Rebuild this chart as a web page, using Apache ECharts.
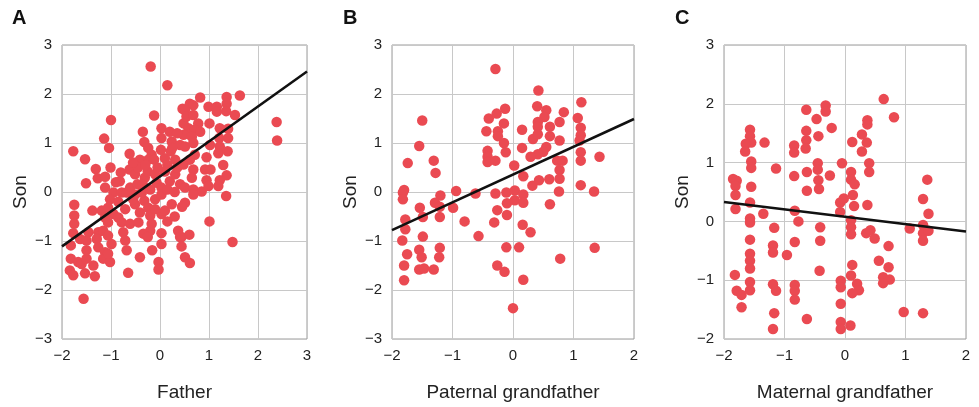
<!DOCTYPE html>
<html><head><meta charset="utf-8">
<script src="https://cdn.jsdelivr.net/npm/echarts@6/dist/echarts.min.js"></script>
<style>html,body{margin:0;padding:0;background:#fff}#c{width:979px;height:407px}</style>
</head><body><div id="c"></div>
<script>
const panelLetters = ['A', 'B', 'C'];
const xNames = ['Father', 'Paternal grandfather', 'Maternal grandfather'];
const yName = 'Son';

const fatherSon = [[-0.19,2.56],[0.15,2.18],[-0.12,1.56],[-1.0,1.47],[-0.35,1.23],[-1.14,1.09],[-1.77,0.83],[-1.04,0.9],[-1.53,0.67],[-1.31,0.47],[-1.27,0.28],[-1.12,0.31],[-1.01,0.5],[-1.51,0.18],[-0.82,0.22],[-0.62,0.78],[-0.62,0.46],[-0.41,0.66],[-0.32,1.02],[-0.24,0.9],[-0.17,0.76],[-0.24,0.66],[-0.12,0.66],[0.03,1.3],[0.2,1.23],[0.03,1.1],[0.24,1.03],[0.02,0.86],[0.22,0.83],[0.1,0.69],[0.31,0.66],[0.41,0.96],[0.46,1.7],[0.48,1.4],[-0.51,0.36],[-0.61,0.09],[-0.46,0.16],[-0.31,0.29],[-0.25,0.42],[-0.1,0.36],[-0.07,0.19],[0.1,0.42],[0.2,0.22],[0.31,0.36],[0.41,0.16],[0.03,0.09],[-1.12,0.09],[-0.95,-0.01],[-0.78,-0.01],
[0.82,1.93],[1.36,1.94],[1.63,1.97],[0.61,1.8],[0.68,1.77],[0.99,1.74],[1.16,1.74],[1.36,1.8],[1.16,1.64],[1.35,1.65],[1.53,1.57],[0.51,1.67],[0.54,1.54],[0.68,1.57],[0.78,1.4],[1.01,1.4],[0.58,1.3],[0.71,1.27],[0.82,1.23],[1.22,1.3],[1.39,1.29],[2.38,1.43],[2.39,1.05],[0.48,1.17],[0.65,1.13],[1.21,1.1],[1.39,1.1],[0.51,0.93],[0.68,1.0],[1.02,0.96],[1.22,0.93],[1.19,0.79],[1.38,0.83],[0.71,0.76],[0.95,0.71],[0.48,0.56],[0.61,0.66],[1.29,0.55],[0.68,0.46],[0.92,0.46],[1.03,0.46],[1.36,0.34],[0.65,0.29],[0.95,0.24],[1.22,0.24],[0.51,0.09],[0.68,0.05],[0.85,0.01],[0.99,0.12],[1.19,0.12],[1.35,-0.08],
[0.68,-0.05],[0.51,-0.22],[1.01,-0.6],[0.6,-0.87],[0.44,-0.92],[0.44,-1.11],[1.48,-1.02],[0.51,-1.33],[0.61,-1.45],
[-1.75,-0.26],[-1.75,-0.48],[-1.75,-0.65],[-1.77,-0.84],[-1.82,-1.09],[-1.82,-1.36],[-1.84,-1.6],[-1.77,-1.7],[-1.67,-1.43],[-1.6,-1.47],[-1.53,-1.66],[-1.5,-1.36],[-1.5,-1.19],[-1.33,-1.72],[-1.36,-1.5],[-1.56,-2.18],[-1.63,-0.96],[-1.46,-0.82],[-1.5,-0.99],[-1.38,-0.38],[-1.26,-0.82],[-1.29,-0.96],[-1.19,-0.38],[-1.26,-1.13],[-1.12,-1.23],[-1.16,-1.36],[-1.02,-1.43],[-1.06,-1.26],[-1.12,-0.52],[-1.06,-0.62],[-1.16,-0.79],[-1.06,-0.89],[-0.99,-1.06],[-1.02,-0.15],[-1.06,-0.32],[-0.95,-0.45],[-0.85,-0.52],[-0.78,-0.62],[-0.71,-0.35],[-0.75,-0.82],[-0.71,-0.99],[-0.68,-1.19],[-0.65,-1.65],[-0.61,-0.65],[-0.51,-0.25],[-0.41,-0.42],[-0.44,-0.62],[-0.32,-0.18],[-0.24,-0.32],[-0.2,-0.48],[-0.17,-0.65],[-0.2,-0.79],[-0.34,-0.85],[-0.25,-0.92],[-0.41,-1.33],[-0.16,-1.19],[-0.03,-1.43],[-0.03,-1.58],[0.03,-1.06],[0.03,-0.84],[0.03,-0.45],[0.1,-0.38],[0.24,-0.25],[-0.1,-0.15],[0.03,-0.05],[0.37,-0.79],[0.41,-0.92],[-0.51,-0.05],[-0.37,-0.01],[-0.68,-0.01],
[-0.45,0.5],[-0.3,0.55],[-0.05,0.5],[0.15,0.55],[0.35,0.5],[0.15,0.05],[0.3,0.0],[-0.2,0.05],[-0.35,0.15],[-0.55,0.6],[0.25,0.9],[0.35,1.2],[-0.8,0.4],[-0.9,0.2],[-0.55,-0.15],[-0.85,-0.2],[0.45,-0.3],[0.3,-0.5],[0.15,-0.6],[-0.1,-0.35]];

const paternalSon = [[-0.29,2.51],[-1.5,1.46],[-0.4,1.5],[-0.27,1.6],[-0.13,1.7],[-0.15,1.4],[-0.44,1.24],[-0.25,1.24],[-0.25,1.14],[-0.15,1.0],[-0.12,0.81],[-0.42,0.84],[-0.42,0.72],[-0.42,0.61],[-0.29,0.64],[-1.55,0.94],[-1.74,0.59],[-1.31,0.64],[-1.28,0.39],[0.02,0.54],[-1.8,0.04],[-1.2,-0.07],[-0.94,0.02],[-0.62,-0.03],[-0.29,-0.03],[-0.11,-0.01],[0.03,0.03],
[0.42,2.07],[0.4,1.75],[0.55,1.67],[0.84,1.63],[1.13,1.83],[0.52,1.53],[0.41,1.43],[0.41,1.33],[0.61,1.33],[0.77,1.43],[1.07,1.51],[0.15,1.27],[1.12,1.31],[1.12,1.16],[0.33,1.08],[0.41,1.18],[0.61,1.14],[0.77,1.05],[1.1,1.05],[0.15,0.9],[0.55,0.92],[0.5,0.82],[0.41,0.77],[0.29,0.72],[1.12,0.81],[1.12,0.64],[1.43,0.72],[0.73,0.64],[0.82,0.64],[0.77,0.45],[0.17,0.32],[0.32,0.13],[0.43,0.24],[0.6,0.26],[0.77,0.27],[1.12,0.14],[0.17,-0.05],[0.76,0.01],[1.34,0.01],
[-1.82,-0.01],[-1.82,-0.15],[-1.29,-0.22],[-1.21,-0.3],[-1.54,-0.32],[-0.99,-0.32],[-1.49,-0.51],[-1.21,-0.51],[-1.78,-0.56],[-1.78,-0.76],[-0.8,-0.6],[-0.26,-0.37],[-0.1,-0.23],[-0.1,-0.47],[-0.31,-0.62],[-1.49,-0.91],[-0.57,-0.9],[-1.83,-0.99],[-1.55,-1.18],[-1.21,-1.14],[-0.11,-1.13],[-1.75,-1.27],[-1.51,-1.33],[-1.22,-1.33],[-1.8,-1.5],[-0.26,-1.5],[-0.14,-1.63],[-1.55,-1.58],[-1.47,-1.56],[-1.31,-1.58],[-1.8,-1.8],[0.0,-2.37],
[0.03,-0.17],[0.17,-0.22],[0.61,-0.25],[0.16,-0.67],[0.29,-0.82],[0.1,-1.13],[1.35,-1.14],[0.78,-1.36],[0.17,-1.79]];

const maternalSon = [[-0.64,1.9],[-0.32,1.97],[-0.32,1.87],[-0.47,1.74],[-0.22,1.59],[-0.64,1.54],[-0.44,1.45],[-0.64,1.38],[-0.65,1.24],[-0.84,1.29],[-0.84,1.17],[-1.57,1.56],[-1.57,1.45],[-1.55,1.34],[-1.64,1.32],[-1.65,1.19],[-1.33,1.34],[-1.55,1.02],[-1.55,0.91],[-1.14,0.9],[-0.45,0.99],[-0.45,0.88],[-0.63,0.84],[-0.44,0.7],[-0.84,0.77],[-0.25,0.78],[-0.05,0.99],[-1.85,0.72],[-1.79,0.69],[-1.81,0.6],[-1.55,0.59],[-0.63,0.52],[-0.43,0.55],
[0.64,2.08],[0.81,1.77],[0.37,1.72],[0.37,1.65],[0.28,1.48],[0.12,1.35],[0.36,1.34],[0.28,1.19],[0.4,0.99],[0.1,0.84],[0.4,0.84],[0.1,0.71],[0.16,0.63],[1.36,0.71],
[-1.81,0.45],[-1.81,0.21],[-1.57,0.32],[-1.35,0.13],[-1.57,0.05],[-1.57,-0.02],[-0.83,0.18],[-0.77,0.0],[-1.17,-0.11],[-0.41,-0.1],[-1.57,-0.31],[-0.83,-0.35],[-0.41,-0.33],[-1.19,-0.41],[-1.19,-0.53],[-0.96,-0.57],[-1.57,-0.55],[-1.57,-0.67],[-1.57,-0.8],[-1.82,-0.91],[-0.42,-0.84],[-1.57,-1.03],[-1.57,-1.17],[-1.79,-1.18],[-1.71,-1.25],[-1.71,-1.46],[-1.19,-1.07],[-1.14,-1.18],[-0.83,-1.08],[-0.83,-1.18],[-0.83,-1.33],[-1.17,-1.56],[-0.63,-1.66],[-1.19,-1.83],[-0.07,-1.01],[-0.07,-1.12],[-0.07,-1.4],[-0.07,-1.71],[-0.07,-1.83],[-0.08,0.32],[-0.08,0.16],
[0.13,0.45],[-0.02,0.39],[0.15,0.26],[0.37,0.28],[1.29,0.38],[1.38,0.13],[0.1,0.02],[0.1,-0.1],[0.1,-0.22],[0.35,-0.2],[0.42,-0.15],[0.49,-0.29],[1.07,-0.12],[1.29,-0.06],[1.29,-0.2],[1.38,-0.16],[1.29,-0.33],[0.72,-0.42],[0.12,-0.74],[0.56,-0.67],[0.72,-0.78],[0.1,-0.92],[0.63,-0.95],[0.74,-0.99],[0.63,-1.05],[0.2,-1.06],[0.23,-1.17],[0.12,-1.22],[0.97,-1.54],[1.29,-1.56],[0.09,-1.77]];

const fitA = [[-2, -1.11], [3, 2.46]];
const fitB = [[-2, -0.78], [2, 1.49]];
const fitC = [[-2, 0.33], [2, -0.17]];

const xRanges = [[-2, 3], [-2, 2], [-2, 2]];
const yRanges = [[-3, 3], [-3, 3], [-2, 3]];

const scatters = [fatherSon, paternalSon, maternalSon];
const fits = [fitA, fitB, fitC];
const grids = [
  {left: 62, top: 45, width: 245, height: 298},
  {left: 392, top: 45, width: 242, height: 298},
  {left: 724, top: 45, width: 242, height: 300}
];
const letterX = [12, 343, 675];

const FONT = '"Liberation Sans", Arial, sans-serif';
const fmt = v => String(v).replace('-', '\u2212');

const chart = echarts.init(document.getElementById('c'), null, {renderer: 'canvas'});
const option = {
  animation: false,
  backgroundColor: '#fff',
  grid: grids.map(g => Object.assign({show: true, borderColor: '#9a9a9a', borderWidth: 1, backgroundColor: 'transparent'}, g)),
  xAxis: grids.map((g, i) => ({
    gridIndex: i, type: 'value', min: xRanges[i][0], max: xRanges[i][1], interval: 1,
    name: xNames[i], nameLocation: 'middle', nameGap: 44,
    nameTextStyle: {fontFamily: FONT, fontSize: 19, color: '#222'},
    axisLine: {show: false}, axisTick: {show: false},
    axisLabel: {formatter: fmt, fontFamily: FONT, fontSize: 15, color: '#222', margin: 9},
    splitLine: {show: true, lineStyle: {color: '#c8c8c8', width: 1}}
  })),
  yAxis: grids.map((g, i) => ({
    gridIndex: i, type: 'value', min: yRanges[i][0], max: yRanges[i][1], interval: 1,
    name: yName, nameLocation: 'middle', nameGap: 32,
    nameTextStyle: {fontFamily: FONT, fontSize: 19, color: '#222'},
    axisLine: {show: false}, axisTick: {show: false},
    axisLabel: {formatter: fmt, fontFamily: FONT, fontSize: 15, color: '#222', margin: 10},
    splitLine: {show: true, lineStyle: {color: '#c8c8c8', width: 1}}
  })),
  series: [].concat(
    scatters.map((d, i) => ({
      type: 'scatter', xAxisIndex: i, yAxisIndex: i, data: d,
      symbolSize: 10.5, itemStyle: {color: '#ea4a52', opacity: 1}, z: 2
    })),
    fits.map((d, i) => ({
      type: 'line', xAxisIndex: i, yAxisIndex: i, data: d,
      showSymbol: false, symbol: 'none', lineStyle: {color: '#111', width: 2.5}, z: 3
    }))
  ),
  graphic: panelLetters.map((t, i) => ({
    type: 'text', left: letterX[i], top: 8,
    style: {text: t, font: 'bold 20px ' + FONT, fill: '#111'}
  }))
};
chart.setOption(option);
</script>
</body></html>
